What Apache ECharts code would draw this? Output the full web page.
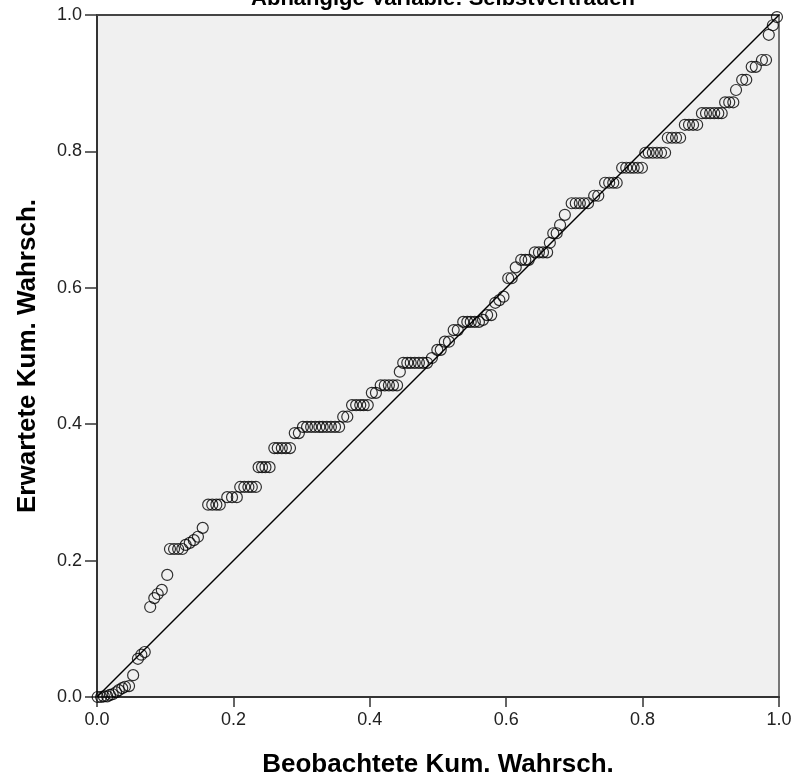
<!DOCTYPE html>
<html>
<head>
<meta charset="utf-8">
<title>P-P-Diagramm</title>
<script src="https://cdn.jsdelivr.net/npm/echarts@6/dist/echarts.min.js"></script>
<style>
  html, body { margin: 0; padding: 0; background: #fff; }
  #chart { width: 795px; height: 780px; }
</style>
</head>
<body>
<div id="chart"></div>
<script>
  var titleText = 'Abhängige Variable: Selbstvertrauen';
  var xName = 'Beobachtete Kum. Wahrsch.';
  var yName = 'Erwartete Kum. Wahrsch.';
  var tickValues = [0.0, 0.2, 0.4, 0.6, 0.8, 1.0];

  // beobachtete kumulierte Wahrscheinlichkeit (x)
  var observed = [
    0.001, 0.006, 0.010, 0.015, 0.019, 0.023, 0.028, 0.032, 0.037, 0.041, 0.047,
    0.053, 0.060, 0.065, 0.070,
    0.078, 0.084, 0.089, 0.095, 0.103,
    0.107, 0.113, 0.119, 0.125, 0.130, 0.136, 0.142, 0.148, 0.155,
    0.163, 0.169, 0.175, 0.180,
    0.191, 0.198, 0.205,
    0.210, 0.216, 0.222, 0.227, 0.233,
    0.237, 0.242, 0.247, 0.253,
    0.260, 0.265, 0.271, 0.277, 0.283,
    0.290, 0.296,
    0.302, 0.308, 0.314, 0.320, 0.326, 0.331, 0.337, 0.343, 0.349, 0.355,
    0.361, 0.367,
    0.374, 0.380, 0.386, 0.391, 0.397,
    0.403, 0.409,
    0.416, 0.422, 0.428, 0.434, 0.440,
    0.444,
    0.449, 0.455, 0.460, 0.466, 0.472, 0.478, 0.484,
    0.491, 0.499, 0.504, 0.510, 0.516, 0.523, 0.529,
    0.537, 0.543, 0.548, 0.554, 0.560, 0.566,
    0.572, 0.578, 0.584, 0.590, 0.596,
    0.603, 0.608, 0.614,
    0.622, 0.628, 0.633,
    0.642, 0.648, 0.654, 0.660,
    0.664, 0.669, 0.674, 0.679, 0.686,
    0.696, 0.702, 0.708, 0.714, 0.720,
    0.729, 0.735,
    0.745, 0.751, 0.757, 0.762,
    0.770, 0.776, 0.782, 0.787, 0.793, 0.799,
    0.804, 0.809, 0.815, 0.821, 0.827, 0.833,
    0.837, 0.843, 0.849, 0.855,
    0.862, 0.868, 0.874, 0.880,
    0.887, 0.893, 0.899, 0.905, 0.911, 0.916,
    0.921, 0.927, 0.933,
    0.937, 0.946, 0.952, 0.960, 0.966, 0.975, 0.981,
    0.985, 0.991, 0.997
  ];

  // erwartete kumulierte Wahrscheinlichkeit (y)
  var expected = [
    0.000, 0.000, 0.001, 0.001, 0.003, 0.004, 0.007, 0.010, 0.013, 0.015, 0.016,
    0.032, 0.056, 0.062, 0.066,
    0.132, 0.145, 0.151, 0.157, 0.179,
    0.217, 0.217, 0.217, 0.217, 0.223, 0.226, 0.230, 0.235, 0.248,
    0.282, 0.282, 0.282, 0.282,
    0.293, 0.293, 0.293,
    0.308, 0.308, 0.308, 0.308, 0.308,
    0.337, 0.337, 0.337, 0.337,
    0.365, 0.365, 0.365, 0.365, 0.365,
    0.387, 0.387,
    0.396, 0.396, 0.396, 0.396, 0.396, 0.396, 0.396, 0.396, 0.396, 0.396,
    0.411, 0.411,
    0.428, 0.428, 0.428, 0.428, 0.428,
    0.446, 0.446,
    0.457, 0.457, 0.457, 0.457, 0.457,
    0.477,
    0.490, 0.490, 0.490, 0.490, 0.490, 0.490, 0.490,
    0.497, 0.509, 0.509, 0.521, 0.521, 0.538, 0.538,
    0.550, 0.550, 0.550, 0.550, 0.550, 0.553,
    0.560, 0.560, 0.578, 0.582, 0.587,
    0.614, 0.614, 0.630,
    0.641, 0.641, 0.641,
    0.652, 0.652, 0.652, 0.652,
    0.666, 0.680, 0.680, 0.692, 0.707,
    0.724, 0.724, 0.724, 0.724, 0.724,
    0.735, 0.735,
    0.754, 0.754, 0.754, 0.754,
    0.776, 0.776, 0.776, 0.776, 0.776, 0.776,
    0.798, 0.798, 0.798, 0.798, 0.798, 0.798,
    0.820, 0.820, 0.820, 0.820,
    0.839, 0.839, 0.839, 0.839,
    0.856, 0.856, 0.856, 0.856, 0.856, 0.856,
    0.872, 0.872, 0.872,
    0.890, 0.905, 0.905, 0.924, 0.924, 0.934, 0.934,
    0.971, 0.985, 0.997
  ];

  var diagonalX = [0, 1];
  var diagonalY = [0, 1];

  var points = observed.map(function (x, i) { return [x, expected[i]]; });
  var diagonal = diagonalX.map(function (x, i) { return [x, diagonalY[i]]; });

  var fontFam = '"Liberation Sans", Arial, sans-serif';
  var nameStyle = {
    fontFamily: fontFam,
    fontSize: 26,
    fontWeight: 'bold',
    color: '#000'
  };
  var labelStyle = {
    fontFamily: fontFam,
    fontSize: 18,
    color: '#222',
    formatter: function (v) { return v.toFixed(1); }
  };

  var myChart = echarts.init(document.getElementById('chart'), null, {renderer: 'canvas'});
  myChart.setOption({
    animation: false,
    backgroundColor: '#ffffff',
    title: {
      text: titleText,
      left: 438,
      textAlign: 'center',
      top: -17,
      textStyle: {
        fontFamily: fontFam,
        fontSize: 22,
        fontWeight: 'bold',
        color: '#000'
      }
    },
    grid: {
      left: 97,
      right: 16,
      top: 15,
      bottom: 83,
      outerBoundsMode: 'none',
      containLabel: false,
      show: true,
      backgroundColor: '#f0f0f0',
      borderColor: '#777',
      borderWidth: 2
    },
    xAxis: [{
      type: 'value',
      min: tickValues[0],
      max: tickValues[tickValues.length - 1],
      interval: 0.2,
      name: xName,
      nameLocation: 'middle',
      nameGap: 55,
      nameTextStyle: nameStyle,
      axisLine: { show: true, onZero: false, lineStyle: { color: '#333', width: 2 } },
      axisTick: { show: true, length: 10, lineStyle: { color: '#333', width: 1.5 } },
      axisLabel: Object.assign({ margin: 14 }, labelStyle),
      splitLine: { show: false }
    }, {
      // dunkle obere Rahmenlinie
      type: 'value',
      position: 'top',
      min: tickValues[0],
      max: tickValues[tickValues.length - 1],
      axisLine: { show: true, onZero: false, lineStyle: { color: '#444', width: 2 } },
      axisTick: { show: false },
      axisLabel: { show: false },
      splitLine: { show: false }
    }],
    yAxis: {
      type: 'value',
      min: tickValues[0],
      max: tickValues[tickValues.length - 1],
      interval: 0.2,
      name: yName,
      nameLocation: 'middle',
      nameGap: 56,
      nameRotate: 90,
      nameTextStyle: nameStyle,
      axisLine: { show: true, onZero: false, lineStyle: { color: '#333', width: 2 } },
      axisTick: { show: true, length: 12, lineStyle: { color: '#333', width: 1.5 } },
      axisLabel: Object.assign({ margin: 15 }, labelStyle),
      splitLine: { show: false }
    },
    series: [
      {
        type: 'line',
        data: diagonal,
        symbol: 'none',
        lineStyle: { color: '#000', width: 1.5 },
        z: 2
      },
      {
        type: 'scatter',
        data: points,
        symbol: 'circle',
        symbolSize: 11,
        itemStyle: {
          color: 'rgba(0,0,0,0)',
          borderColor: '#000',
          borderWidth: 1.2
        },
        z: 3
      }
    ]
  });
</script>
</body>
</html>
